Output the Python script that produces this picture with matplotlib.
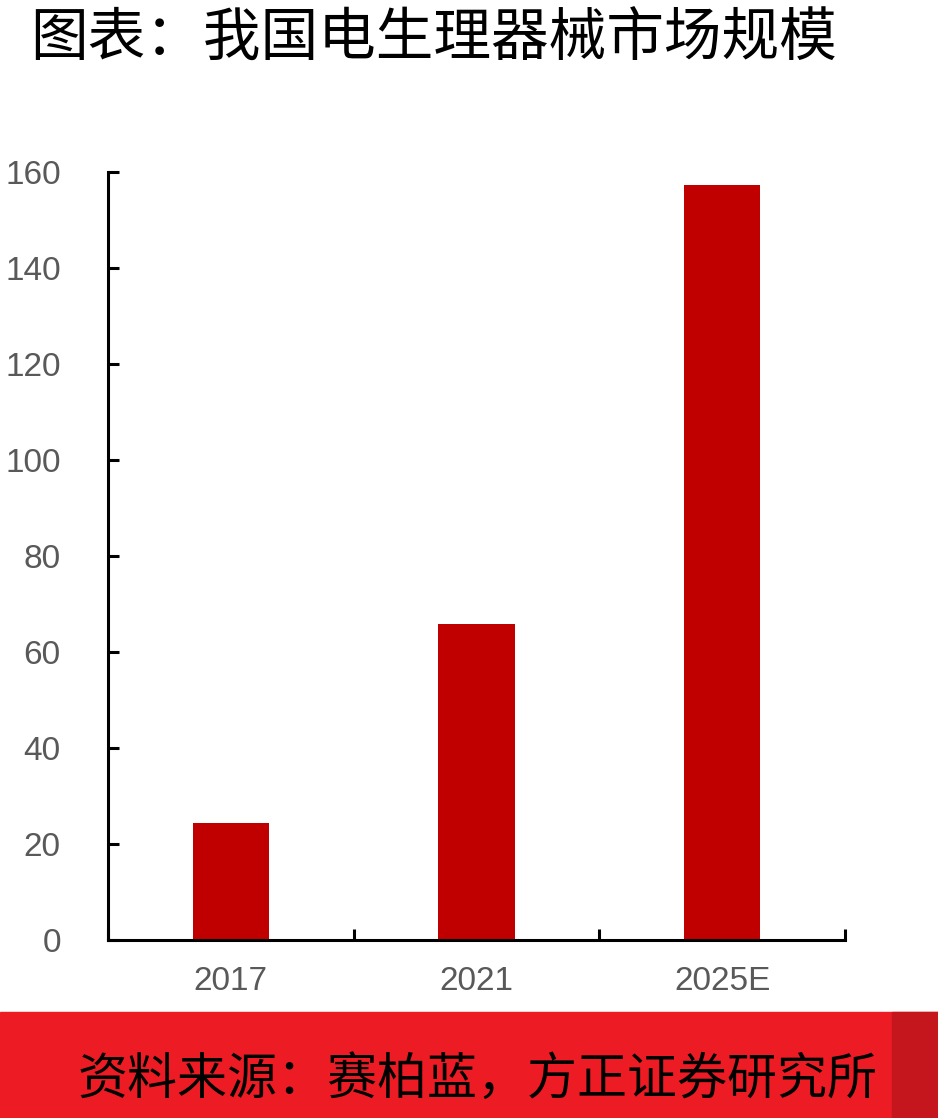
import matplotlib.pyplot as plt
from matplotlib.patches import Rectangle

# data
years = ["2017", "2021", "2025E"]
market = [24.3, 65.8, 157.3]
yticks = [0, 20, 40, 60, 80, 100, 120, 140, 160]

title = "图表：我国电生理器械市场规模"
source = "资料来源：赛柏蓝，方正证券研究所"

BAR_COLOUR = "#C00000"
LABEL_COLOUR = "#595959"

plt.rcParams['font.family'] = ['Noto Sans CJK SC', 'DejaVu Sans']

fig = plt.figure(figsize=(9.38, 11.18), dpi=100)
ax = fig.add_axes([108 / 938, 1 - 940 / 1118, (845 - 108) / 938, (940 - 172) / 1118])

x = range(len(years))
ax.bar(x, market, width=0.31, color=BAR_COLOUR)

ax.set_xlim(-0.5, 2.5)
ax.set_ylim(0, 160)
ax.set_yticks(yticks)
ax.set_xticks(list(x))
ax.set_xticklabels(years)
ax.set_xticks([-0.5, 0.5, 1.5, 2.5], minor=True)

for s in ['top', 'right']:
    ax.spines[s].set_visible(False)
for s in ['left', 'bottom']:
    ax.spines[s].set_linewidth(2.2)
    ax.spines[s].set_color('black')

ax.tick_params(axis='y', direction='in', length=8, width=2.2, pad=34,
               labelsize=24, labelcolor=LABEL_COLOUR)
ax.tick_params(axis='x', which='major', length=0, pad=19,
               labelsize=24, labelcolor=LABEL_COLOUR)
ax.tick_params(axis='x', which='minor', direction='in', length=8, width=2.2)
for lab in ax.get_xticklabels() + ax.get_yticklabels():
    lab.set_family(['Liberation Sans', 'DejaVu Sans'])

fig.text(30 / 938, 1 - 40 / 1118, title, fontsize=41.5, va='center', ha='left')

# bottom band
fig.patches.append(Rectangle((0, 0), 1, (1118 - 1012) / 1118, transform=fig.transFigure,
                             color="#ED1C24", zorder=0))
fig.patches.append(Rectangle((892 / 938, 0), 46 / 938, (1118 - 1012) / 1118,
                             transform=fig.transFigure, color="#C4161C", zorder=0))
fig.text(78 / 938, 1 - 1080 / 1118, source, fontsize=36, style='italic',
         va='center', ha='left', color='black')

fig.savefig("out.png", dpi=100)
